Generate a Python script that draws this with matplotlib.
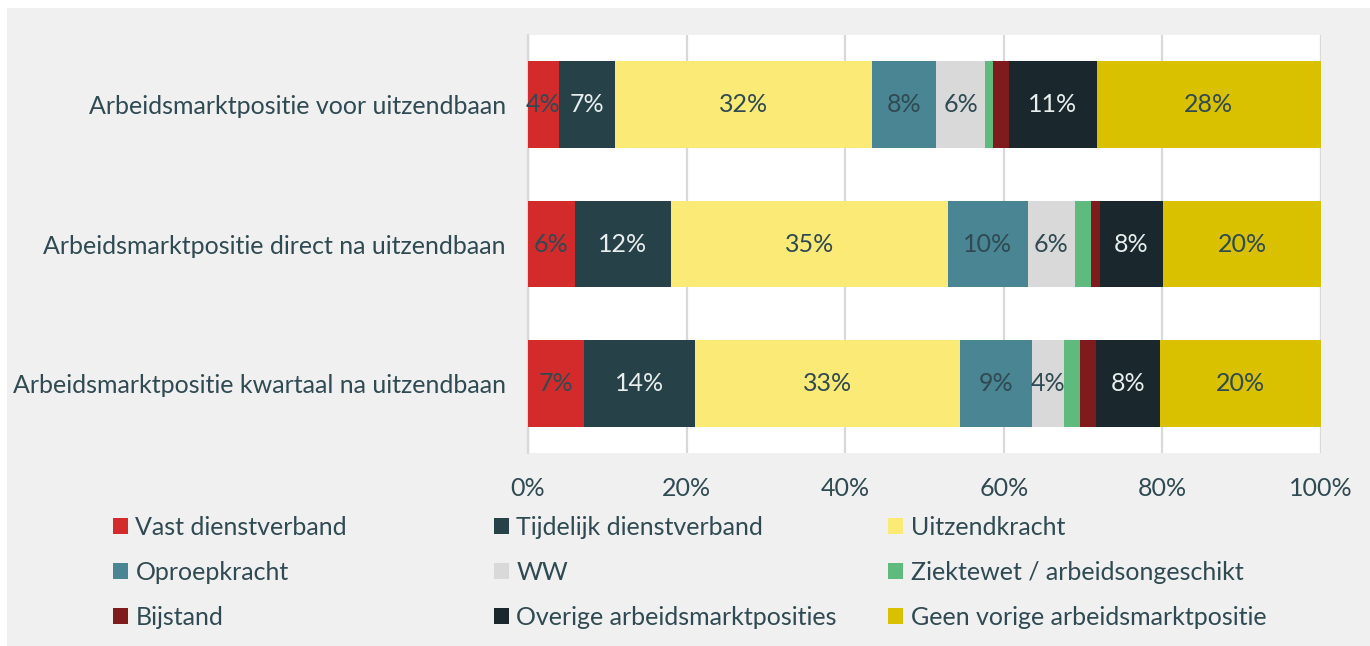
import matplotlib
matplotlib.use("Agg")
import matplotlib.pyplot as plt
from matplotlib.patches import Rectangle
import numpy as np

plt.rcParams['font.family'] = ['Lato', 'DejaVu Sans']

categories = [
    "Arbeidsmarktpositie voor uitzendbaan",
    "Arbeidsmarktpositie direct na uitzendbaan",
    "Arbeidsmarktpositie kwartaal na uitzendbaan",
]
series = [
    "Vast dienstverband", "Tijdelijk dienstverband", "Uitzendkracht",
    "Oproepkracht", "WW", "Ziektewet / arbeidsongeschikt",
    "Bijstand", "Overige arbeidsmarktposities", "Geen vorige arbeidsmarktpositie",
]
vast      = [3.9, 5.9, 7.0]
tijdelijk = [7.1, 12.1, 14.1]
uitzend   = [32.4, 35.0, 33.4]
oproep    = [8.1, 10.0, 9.0]
ww        = [6.1, 6.0, 4.1]
ziekte    = [1.0, 2.0, 2.0]
bijstand  = [2.0, 1.1, 2.0]
overige   = [11.1, 8.0, 8.1]
geen      = [28.3, 19.9, 20.3]
values = [vast, tijdelijk, uitzend, oproep, ww, ziekte, bijstand, overige, geen]
xticks = [0, 20, 40, 60, 80, 100]
xticklabels = ["0%", "20%", "40%", "60%", "80%", "100%"]

colors = ["#d32b2b", "#264148", "#fcea76", "#4a8593", "#d9d9d9",
          "#5fbb7d", "#7f1a1d", "#1a282d", "#d9c100"]
label_colors = ["#2f4a52", "#e8eeee", "#2f4a52", "#2f4a52", "#2f4a52",
                "#2f4a52", "#e8eeee", "#e8eeee", "#2f4a52"]
text_color = "#2f4a52"
fs = 18

W, H = 1370, 646
fig = plt.figure(figsize=(W / 100, H / 100), dpi=100)
fig.patch.set_facecolor("white")
fig.patches.append(Rectangle((7 / W, 0), 1, 1 - 8 / H, transform=fig.transFigure,
                             facecolor="#f0f0f0", edgecolor="none", zorder=-10))

ax = fig.add_axes([528 / W, 1 - 453 / H, (1321 - 528) / W, (453 - 35) / H])
ax.set_facecolor("white")

y = np.arange(len(categories))
left = np.zeros(len(categories))
for vals, name, c, lc in zip(values, series, colors, label_colors):
    vals = np.array(vals)
    bars = ax.barh(y, vals, left=left, height=0.62, color=c, label=name,
                   edgecolor="none", zorder=3)
    for b, v in zip(bars, vals):
        if v >= 3:
            ax.text(b.get_x() + b.get_width() / 2, b.get_y() + b.get_height() / 2,
                    f"{round(v):d}%", ha="center", va="center", fontsize=fs,
                    color=lc, zorder=4)
    left += vals

ax.set_xlim(0, 100)
ax.set_ylim(2.5, -0.5)
ax.set_yticks(y)
ax.set_yticklabels(categories, fontsize=fs, color=text_color)
ax.set_xticks(xticks)
ax.set_xticklabels(xticklabels, fontsize=fs, color=text_color)
ax.tick_params(axis="both", length=0)
ax.tick_params(axis="y", pad=16)
ax.tick_params(axis="x", pad=17)
ax.grid(axis="x", color="#d9d9d9", linewidth=1.6, zorder=0)
for s in ["top", "right", "bottom"]:
    ax.spines[s].set_visible(False)
ax.spines["left"].set_color("#d9d9d9")
ax.spines["left"].set_linewidth(1.6)

handles, labels = ax.get_legend_handles_labels()
col_x = [113, 494, 888]
for ci in range(3):
    hs = [handles[ci + 3 * r] for r in range(3)]
    ls = [labels[ci + 3 * r] for r in range(3)]
    leg = fig.legend(hs, ls, loc="upper left",
                     bbox_to_anchor=(col_x[ci] / W, 1 - 516 / H),
                     frameon=False, fontsize=fs, handlelength=0.6,
                     handleheight=0.6, handletextpad=0.3, labelspacing=0.88,
                     borderaxespad=0, borderpad=0)
    for t in leg.get_texts():
        t.set_color(text_color)

fig.savefig("out.png", dpi=100, facecolor=fig.get_facecolor())
